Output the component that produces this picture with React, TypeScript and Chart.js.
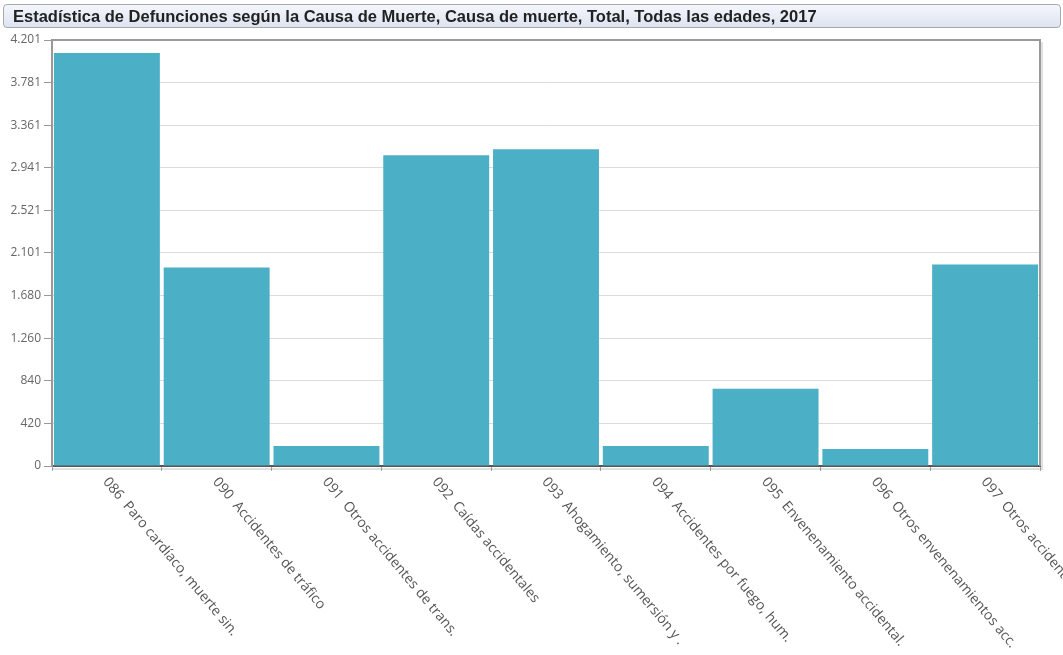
import React, { useEffect, useRef } from "react";
import { Chart, registerables } from "chart.js";

Chart.register(...registerables);

const titleText = "Estadística de Defunciones según la Causa de Muerte, Causa de muerte, Total, Todas las edades, 2017";

const categories = [
  "086  Paro cardíaco, muerte sin.",
  "090  Accidentes de tráfico",
  "091  Otros accidentes de trans.",
  "092  Caídas accidentales",
  "093  Ahogamiento, sumersión y .",
  "094  Accidentes por fuego, hum.",
  "095  Envenenamiento accidental.",
  "096  Otros envenenamientos acc.",
  "097  Otros accidentes",
];

const values = [4072, 1957, 198, 3064, 3123, 198, 761, 168, 1987];

const yTicks = [0, 420, 840, 1260, 1680, 2101, 2521, 2941, 3361, 3781, 4201];

const fmt = (v: number) => Math.round(v).toString().replace(/\B(?=(\d{3})+(?!\d))/g, ".");

const framePlugin = {
  id: "frame",
  afterDraw(chart: any) {
    const { ctx, chartArea } = chart;
    const { left, right, top, bottom } = chartArea;
    ctx.save();
    ctx.strokeStyle = "rgba(0,0,0,0.12)";
    ctx.lineWidth = 2;
    ctx.beginPath();
    ctx.moveTo(right + 2, top + 2);
    ctx.lineTo(right + 2, bottom + 3);
    ctx.lineTo(left, bottom + 3);
    ctx.stroke();
    ctx.strokeStyle = "#9a9a9a";
    ctx.lineWidth = 2;
    ctx.beginPath();
    ctx.moveTo(left, top);
    ctx.lineTo(right, top);
    ctx.lineTo(right, bottom);
    ctx.stroke();
    const xs = chart.scales.x;
    ctx.fillStyle = "#555";
    ctx.font = '14px "Open Sans"';
    ctx.textAlign = "left";
    ctx.textBaseline = "top";
    categories.forEach((lab, i) => {
      const x = xs.getPixelForValue(i);
      ctx.save();
      ctx.translate(x + 4, bottom + 9);
      ctx.rotate((50 * Math.PI) / 180);
      ctx.fillText(lab, 0, 0);
      ctx.restore();
    });
    ctx.restore();
  },
};

export default function App() {
  const ref = useRef<HTMLCanvasElement>(null);
  useEffect(() => {
    document.body.style.margin = "0";
    const chart = new Chart(ref.current!, {
      type: "bar",
      data: {
        labels: categories,
        datasets: [
          {
            data: values,
            backgroundColor: "#4bb0c6",
            barPercentage: 0.965,
            categoryPercentage: 1,
            borderWidth: 0,
          },
        ],
      },
      options: {
        animation: false,
        responsive: false,
        maintainAspectRatio: false,
        layout: { padding: { top: 40, right: 23, left: 0, bottom: 0 } },
        plugins: { legend: { display: false }, tooltip: { enabled: false }, title: { display: false } },
        scales: {
          x: {
            grid: {
              display: true,
              drawOnChartArea: false,
              drawTicks: true,
              tickLength: 5,
              tickColor: "#aaa",
              offset: true,
            },
            border: { display: true, color: "#555", width: 2 },
            ticks: { display: false },
            afterFit: (s: any) => {
              s.height = 655 - 466;
            },
          },
          y: {
            min: 0,
            max: 4201,
            afterBuildTicks: (s: any) => {
              s.ticks = yTicks.map((v) => ({ value: v }));
            },
            grid: { color: "#dcdcdc", tickColor: "#999", tickLength: 8, lineWidth: 1 },
            border: { display: true, color: "#999", width: 2 },
            ticks: {
              color: "#666",
              font: { family: "Open Sans", size: 12 },
              padding: 3,
              callback: (v: any) => fmt(Number(v)),
            },
            afterFit: (s: any) => {
              s.width = 52;
            },
          },
        },
      },
      plugins: [framePlugin],
    });
    return () => chart.destroy();
  }, []);
  return (
    <div style={{ position: "absolute", left: 0, top: 0, width: 1063, height: 655, background: "#fff" }}>
      <canvas ref={ref} width={1063} height={655} style={{ position: "absolute", left: 0, top: 0 }} />
      <div
        style={{
          position: "absolute",
          left: 3,
          top: 4,
          width: 1058,
          height: 24,
          border: "1px solid #a9a9a9",
          borderRadius: 4,
          background: "linear-gradient(#f4f6fb, #dde4f1)",
          fontFamily: '"Liberation Sans", Arial, sans-serif',
          fontWeight: "bold",
          fontSize: 16.5,
          lineHeight: "22px",
          color: "#222",
          paddingLeft: 9,
          boxSizing: "border-box",
          whiteSpace: "nowrap",
        }}
      >
        {titleText}
      </div>
    </div>
  );
}
